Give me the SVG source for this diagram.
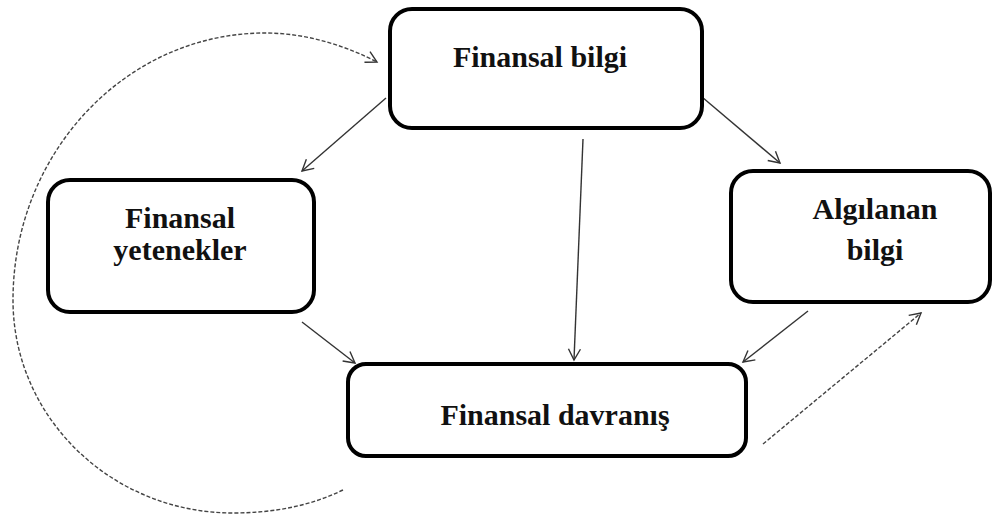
<svg xmlns="http://www.w3.org/2000/svg" width="993" height="518" viewBox="0 0 993 518">
<style>
.box{fill:#fff;stroke:#000;stroke-width:4}
.lbl{font-family:"Liberation Serif","Times New Roman",serif;font-weight:bold;font-size:30px;fill:#111;text-anchor:middle}
.con{fill:none;stroke:#333;stroke-width:1.4}
.dash{fill:none;stroke:#444;stroke-width:1.4;stroke-dasharray:4 2}
</style>
<defs>
<marker id="ah" markerUnits="userSpaceOnUse" markerWidth="16" markerHeight="16" refX="12" refY="6" orient="auto" viewBox="0 0 16 12">
<path d="M1,0 L12,6 L1,12" fill="none" stroke="#333" stroke-width="1.4"/>
</marker>
</defs>
<rect width="993" height="518" fill="#fff"/>
<g id="connectors">
<line class="con" x1="386" y1="98" x2="302" y2="171" marker-end="url(#ah)"/>
<line class="con" x1="702" y1="97" x2="780" y2="163" marker-end="url(#ah)"/>
<line class="con" x1="583" y1="139" x2="574" y2="360" marker-end="url(#ah)"/>
<line class="con" x1="302" y1="322" x2="355" y2="363" marker-end="url(#ah)"/>
<line class="con" x1="808" y1="311" x2="743" y2="362" marker-end="url(#ah)"/>
<line class="dash" x1="763" y1="444" x2="921" y2="313" marker-end="url(#ah)"/>
<path class="dash" d="M343,490 C310,506 273,513 233,513 C112,513 13,418 13,300 C13,153 126,33 265,33 C310,33 350,48 377,62" marker-end="url(#ah)"/>
</g>
<g id="n-finansal-bilgi">
<rect class="box" x="390" y="9" width="312" height="119" rx="22"/>
<text class="lbl" x="540" y="67">Finansal bilgi</text>
</g>
<g id="n-finansal-yetenekler">
<rect class="box" x="48" y="180" width="266" height="132" rx="22"/>
<text class="lbl" x="180" y="228">Finansal</text>
<text class="lbl" x="180" y="260">yetenekler</text>
</g>
<g id="n-algilanan-bilgi">
<rect class="box" x="731" y="171" width="259" height="131" rx="22"/>
<text class="lbl" x="875" y="219">Algılanan</text>
<text class="lbl" x="875" y="260">bilgi</text>
</g>
<g id="n-finansal-davranis">
<rect class="box" x="348" y="364" width="398" height="92" rx="18"/>
<text class="lbl" x="555" y="425">Finansal davranış</text>
</g>
</svg>
